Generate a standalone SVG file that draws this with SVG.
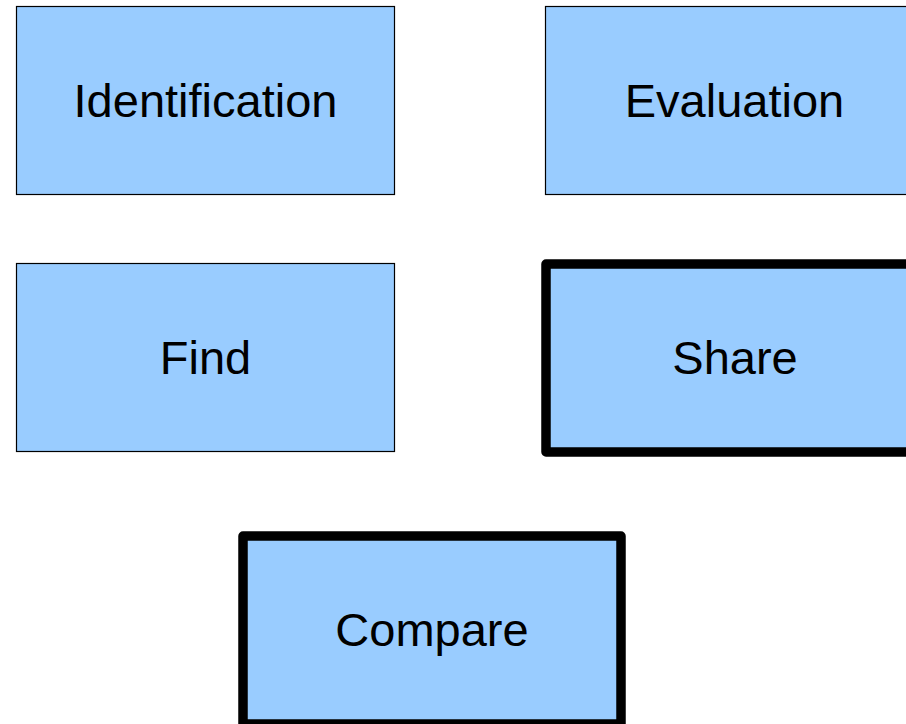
<svg xmlns="http://www.w3.org/2000/svg" width="906" height="724" viewBox="0 0 906 724">
<style>
.box{fill:#99ccff;stroke:#000;stroke-width:1.2}
.bold{fill:#99ccff;stroke:#000;stroke-width:9.5;stroke-linejoin:round}
.lbl{font-family:"Liberation Sans",Arial,sans-serif;font-size:47px;fill:#000;text-anchor:middle}
</style>
<rect width="906" height="724" fill="#fff"/>
<g id="connectors"></g>
<g id="identification">
<rect class="box" x="16.5" y="6.5" width="378" height="188"/>
<text class="lbl" x="205.5" y="117">Identification</text>
</g>
<g id="evaluation">
<rect class="box" x="545.5" y="6.5" width="378" height="188"/>
<text class="lbl" x="734.5" y="117">Evaluation</text>
</g>
<g id="find">
<rect class="box" x="16.5" y="263.5" width="378" height="188"/>
<text class="lbl" x="205.5" y="374">Find</text>
</g>
<g id="share">
<rect class="bold" x="546" y="264" width="378" height="188"/>
<text class="lbl" x="735" y="374">Share</text>
</g>
<g id="compare">
<rect class="bold" x="243" y="536" width="378" height="188"/>
<text class="lbl" x="432" y="646">Compare</text>
</g>
</svg>
